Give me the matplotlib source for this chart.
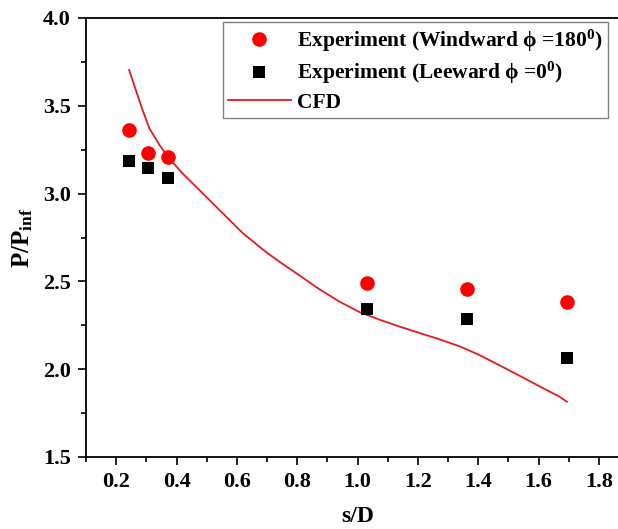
import numpy as np
import matplotlib
matplotlib.use("Agg")
import matplotlib.pyplot as plt
from matplotlib.ticker import MultipleLocator

plt.rcParams['font.family'] = ['Liberation Serif', 'DejaVu Serif']
plt.rcParams['font.weight'] = 'bold'
plt.rcParams['mathtext.fontset'] = 'custom'
plt.rcParams['mathtext.rm'] = 'Liberation Serif:bold'
plt.rcParams['mathtext.it'] = 'Liberation Serif:bold'
plt.rcParams['mathtext.bf'] = 'Liberation Serif:bold'

# experiment, windward side (phi = 180)
wind_x = [0.243, 0.306, 0.373, 1.03, 1.362, 1.694]
wind_y = [3.36, 3.23, 3.21, 2.49, 2.455, 2.38]

# experiment, leeward side (phi = 0)
lee_x = [0.243, 0.306, 0.373, 1.03, 1.362, 1.694]
lee_y = [3.185, 3.145, 3.09, 2.345, 2.285, 2.065]

# CFD curve
cfd_x = [0.243, 0.265, 0.287, 0.31, 0.343, 0.376, 0.42, 0.476, 0.542, 0.619,
         0.697, 0.741, 0.807, 0.874, 0.94, 1.007, 1.073, 1.139, 1.206, 1.272,
         1.339, 1.405, 1.471, 1.538, 1.604, 1.67, 1.694]
cfd_y = [3.704, 3.59, 3.478, 3.372, 3.278, 3.20, 3.115, 3.02, 2.907, 2.776,
         2.667, 2.612, 2.535, 2.455, 2.385, 2.325, 2.282, 2.243, 2.206, 2.17,
         2.13, 2.08, 2.022, 1.962, 1.902, 1.843, 1.815]

fig = plt.figure(figsize=(6.18, 5.29), dpi=100)
ax = fig.add_axes([86 / 618, 72 / 529, 543 / 618, 439 / 529])

ax.plot(wind_x, wind_y, 'o', color='#ff0000', markersize=10.5, markeredgewidth=0,
        label=r'Experiment (Windward $\phi$ =180$^0$)', zorder=3)
ax.plot(lee_x, lee_y, 's', color='black', markersize=9, markeredgewidth=0,
        label=r'Experiment (Leeward $\phi$ =0$^0$)', zorder=3)
ax.plot(cfd_x, cfd_y, '-', color='#e8191e', linewidth=1.3, label='CFD')

ax.set_xlim(0.1, 1.9)
ax.set_ylim(1.5, 4.0)
ax.xaxis.set_major_locator(MultipleLocator(0.2))
ax.xaxis.set_minor_locator(MultipleLocator(0.1))
ax.yaxis.set_major_locator(MultipleLocator(0.5))
ax.yaxis.set_minor_locator(MultipleLocator(0.25))
ax.set_xticks(np.arange(0.2, 1.81, 0.2))
ax.tick_params(which='both', direction='out', width=1.2, labelsize=16)
ax.tick_params(which='major', length=6, pad=5)
ax.tick_params(which='minor', length=3.5)
for side in ['left', 'bottom', 'top']:
    ax.spines[side].set_linewidth(1.3)
ax.spines['right'].set_visible(False)

ax.set_xlabel('s/D', fontsize=17, fontweight='bold', labelpad=10)
ax.set_ylabel(r'P/P$_{\mathrm{inf}}$', fontsize=18, fontweight='bold', labelpad=6)

leg = ax.legend(loc='upper right', bbox_to_anchor=(608 / 618, 1 - 22 / 529),
                bbox_transform=fig.transFigure, fancybox=False, framealpha=1,
                edgecolor='#808080', prop={'size': 15.5, 'weight': 'bold'},
                handlelength=2.9, borderpad=0.25, labelspacing=0.3,
                handletextpad=0.3, borderaxespad=0)
leg.get_frame().set_linewidth(1.0)

fig.savefig('out.png', dpi=100)
